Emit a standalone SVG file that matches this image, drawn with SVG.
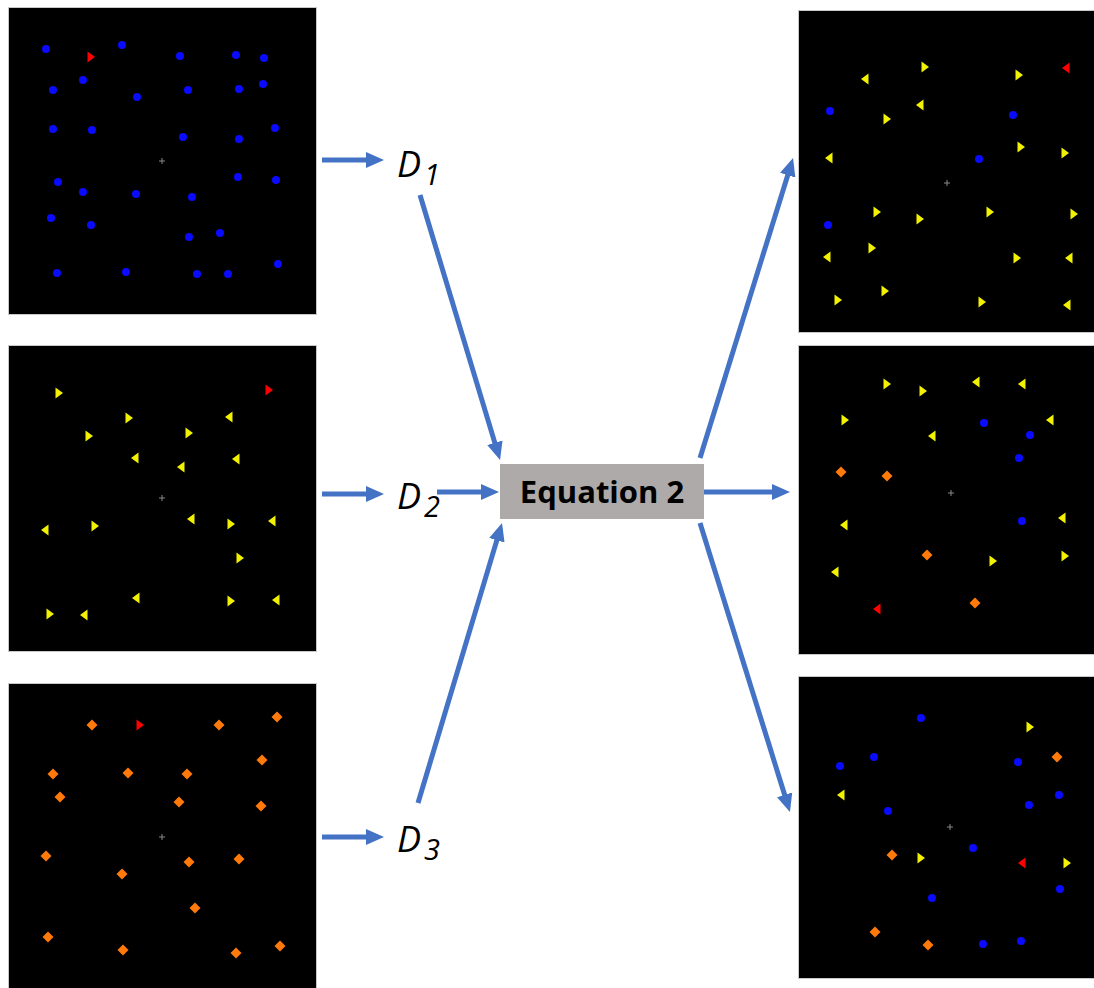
<svg xmlns="http://www.w3.org/2000/svg" xmlns:xlink="http://www.w3.org/1999/xlink" width="1094" height="988" viewBox="0 0 1094 988">
<style>
.panel{fill:#000;stroke:#c8c8c8;stroke-width:1}
.b{fill:#0a0aff}.y{fill:#f2f200}.o{fill:#ff7a0a}.r{fill:#ff0000}
.x{stroke:#8a8a8a;stroke-width:1}
.conn line{stroke:#4472c4;stroke-width:5;marker-end:url(#ah)}
.lab{font-family:"Open Sans","Liberation Sans",sans-serif;font-style:italic;fill:#000}
.eq{font-family:"Open Sans","Liberation Sans",sans-serif;font-weight:bold;font-size:31px;fill:#000}
</style>
<defs>
<marker id="ah" markerUnits="userSpaceOnUse" markerWidth="18" markerHeight="16" viewBox="0 0 18 16" refX="4" refY="8" orient="auto"><path d="M0,0 L18,8 L0,16 Z" fill="#4472c4"/></marker>
<circle id="c" r="4"/>
<path id="tr" d="M-3.5,-5.5 L4,0 L-3.5,5.5 Z"/>
<path id="tl" d="M3.5,-5.5 L-4,0 L3.5,5.5 Z"/>
<path id="dm" d="M0,-5.5 L5.5,0 L0,5.5 L-5.5,0 Z"/>
<path id="cr" d="M-3,0 H3 M0,-3 V3"/>
</defs>
<rect width="1094" height="988" fill="#fff"/>

<g id="panel-L1">
<rect class="panel" x="8.5" y="7.5" width="308" height="307"/>
<use href="#cr" x="162" y="161" class="x"/>
<use href="#tr" x="91" y="57" class="r"/>
<g class="b">
<use href="#c" x="46" y="49"/><use href="#c" x="122" y="45"/><use href="#c" x="180" y="56"/><use href="#c" x="236" y="55"/><use href="#c" x="264" y="58"/>
<use href="#c" x="83" y="80"/><use href="#c" x="53" y="90"/><use href="#c" x="137" y="97"/><use href="#c" x="188" y="90"/><use href="#c" x="239" y="89"/><use href="#c" x="263" y="84"/>
<use href="#c" x="53" y="129"/><use href="#c" x="92" y="130"/><use href="#c" x="183" y="137"/><use href="#c" x="239" y="139"/><use href="#c" x="275" y="128"/>
<use href="#c" x="58" y="182"/><use href="#c" x="83" y="192"/><use href="#c" x="136" y="194"/><use href="#c" x="192" y="197"/><use href="#c" x="238" y="177"/><use href="#c" x="276" y="180"/>
<use href="#c" x="51" y="218"/><use href="#c" x="91" y="225"/><use href="#c" x="189" y="237"/><use href="#c" x="220" y="233"/>
<use href="#c" x="57" y="273"/><use href="#c" x="126" y="272"/><use href="#c" x="197" y="274"/><use href="#c" x="228" y="274"/><use href="#c" x="278" y="264"/>
</g>
</g>

<g id="panel-L2">
<rect class="panel" x="8.5" y="345.5" width="308" height="306"/>
<use href="#cr" x="162" y="498" class="x"/>
<use href="#tr" x="269" y="390" class="r"/>
<g class="y">
<use href="#tr" x="59" y="393"/><use href="#tr" x="129" y="418"/><use href="#tl" x="229" y="417"/><use href="#tr" x="89" y="436"/><use href="#tr" x="189" y="433"/>
<use href="#tl" x="135" y="458"/><use href="#tl" x="236" y="459"/><use href="#tl" x="181" y="467"/>
<use href="#tl" x="191" y="519"/><use href="#tr" x="231" y="524"/><use href="#tl" x="272" y="521"/><use href="#tl" x="45" y="530"/><use href="#tr" x="95" y="526"/>
<use href="#tr" x="240" y="558"/><use href="#tl" x="136" y="598"/><use href="#tr" x="231" y="601"/><use href="#tl" x="276" y="600"/><use href="#tr" x="50" y="614"/><use href="#tl" x="84" y="615"/>
</g>
</g>

<g id="panel-L3">
<rect class="panel" x="8.5" y="683.5" width="308" height="310"/>
<use href="#cr" x="162" y="837" class="x"/>
<use href="#tr" x="140" y="725" class="r"/>
<g class="o">
<use href="#dm" x="92" y="725"/><use href="#dm" x="219" y="725"/><use href="#dm" x="277" y="717"/><use href="#dm" x="262" y="760"/>
<use href="#dm" x="53" y="774"/><use href="#dm" x="128" y="773"/><use href="#dm" x="187" y="774"/><use href="#dm" x="60" y="797"/><use href="#dm" x="179" y="802"/><use href="#dm" x="261" y="806"/>
<use href="#dm" x="46" y="856"/><use href="#dm" x="189" y="862"/><use href="#dm" x="239" y="859"/><use href="#dm" x="122" y="874"/><use href="#dm" x="195" y="908"/>
<use href="#dm" x="48" y="937"/><use href="#dm" x="123" y="950"/><use href="#dm" x="236" y="953"/><use href="#dm" x="280" y="946"/>
</g>
</g>

<g id="panel-R1">
<rect class="panel" x="798.5" y="10.5" width="300" height="322"/>
<use href="#cr" x="947" y="183" class="x"/>
<use href="#tl" x="1066" y="68" class="r"/>
<g class="y">
<use href="#tr" x="925" y="67"/><use href="#tl" x="865" y="79"/><use href="#tr" x="1019" y="75"/><use href="#tr" x="887" y="119"/><use href="#tl" x="920" y="105"/>
<use href="#tl" x="829" y="158"/><use href="#tr" x="1021" y="147"/><use href="#tr" x="1065" y="153"/>
<use href="#tr" x="877" y="212"/><use href="#tr" x="920" y="219"/><use href="#tr" x="990" y="212"/><use href="#tr" x="1074" y="214"/>
<use href="#tr" x="872" y="248"/><use href="#tl" x="827" y="257"/><use href="#tr" x="1017" y="258"/><use href="#tl" x="1069" y="258"/>
<use href="#tr" x="885" y="291"/><use href="#tr" x="838" y="300"/><use href="#tr" x="982" y="302"/><use href="#tl" x="1067" y="305"/>
</g>
<g class="b">
<use href="#c" x="830" y="111"/><use href="#c" x="1013" y="115"/><use href="#c" x="979" y="159"/><use href="#c" x="828" y="225"/>
</g>
</g>

<g id="panel-R2">
<rect class="panel" x="798.5" y="345.5" width="300" height="309"/>
<use href="#cr" x="951" y="493" class="x"/>
<use href="#tl" x="877" y="609" class="r"/>
<g class="y">
<use href="#tr" x="887" y="384"/><use href="#tr" x="923" y="391"/><use href="#tl" x="976" y="382"/><use href="#tl" x="1022" y="384"/>
<use href="#tr" x="845" y="420"/><use href="#tl" x="1050" y="420"/><use href="#tl" x="932" y="436"/>
<use href="#tl" x="844" y="525"/><use href="#tl" x="1062" y="518"/><use href="#tr" x="993" y="561"/><use href="#tr" x="1065" y="556"/><use href="#tl" x="835" y="572"/>
</g>
<g class="b">
<use href="#c" x="984" y="423"/><use href="#c" x="1030" y="435"/><use href="#c" x="1019" y="458"/><use href="#c" x="1022" y="521"/>
</g>
<g class="o">
<use href="#dm" x="841" y="472"/><use href="#dm" x="887" y="476"/><use href="#dm" x="927" y="555"/><use href="#dm" x="975" y="603"/>
</g>
</g>

<g id="panel-R3">
<rect class="panel" x="798.5" y="676.5" width="300" height="302"/>
<use href="#cr" x="950" y="827" class="x"/>
<use href="#tl" x="1022" y="863" class="r"/>
<g class="y">
<use href="#tr" x="1030" y="727"/><use href="#tl" x="841" y="795"/><use href="#tr" x="921" y="858"/><use href="#tr" x="1067" y="863"/>
</g>
<g class="b">
<use href="#c" x="921" y="718"/><use href="#c" x="874" y="757"/><use href="#c" x="840" y="766"/><use href="#c" x="1018" y="762"/><use href="#c" x="1059" y="795"/>
<use href="#c" x="1029" y="805"/><use href="#c" x="888" y="811"/><use href="#c" x="973" y="848"/><use href="#c" x="1060" y="889"/><use href="#c" x="932" y="898"/>
<use href="#c" x="983" y="944"/><use href="#c" x="1021" y="941"/>
</g>
<g class="o">
<use href="#dm" x="1057" y="757"/><use href="#dm" x="892" y="855"/><use href="#dm" x="875" y="932"/><use href="#dm" x="928" y="945"/>
</g>
</g>

<g id="label-D1"><text class="lab" x="397" y="177" font-size="36">D<tspan font-size="29" dx="3" dy="8">1</tspan></text></g>
<g id="label-D2"><text class="lab" x="397" y="509" font-size="36">D<tspan font-size="29" dx="3" dy="8">2</tspan></text></g>
<g id="label-D3"><text class="lab" x="397" y="852" font-size="36">D<tspan font-size="29" dx="3" dy="8">3</tspan></text></g>

<g id="node-equation">
<rect x="500" y="464" width="204" height="55" fill="#aeaaaa"/>
<text class="eq" x="602" y="503" text-anchor="middle">Equation 2</text>
</g>

<g id="connectors" class="conn">
<line x1="322" y1="160" x2="370" y2="160"/>
<line x1="322" y1="494" x2="370" y2="494"/>
<line x1="322" y1="837" x2="370" y2="837"/>
<line x1="437" y1="492" x2="485" y2="492"/>
<line x1="420" y1="195" x2="496" y2="446.6"/>
<line x1="418" y1="803" x2="498" y2="536.4"/>
<line x1="704" y1="492" x2="776" y2="492"/>
<line x1="700" y1="458" x2="788.9" y2="171.4"/>
<line x1="700" y1="523" x2="785.8" y2="798.6"/>
</g>
</svg>
